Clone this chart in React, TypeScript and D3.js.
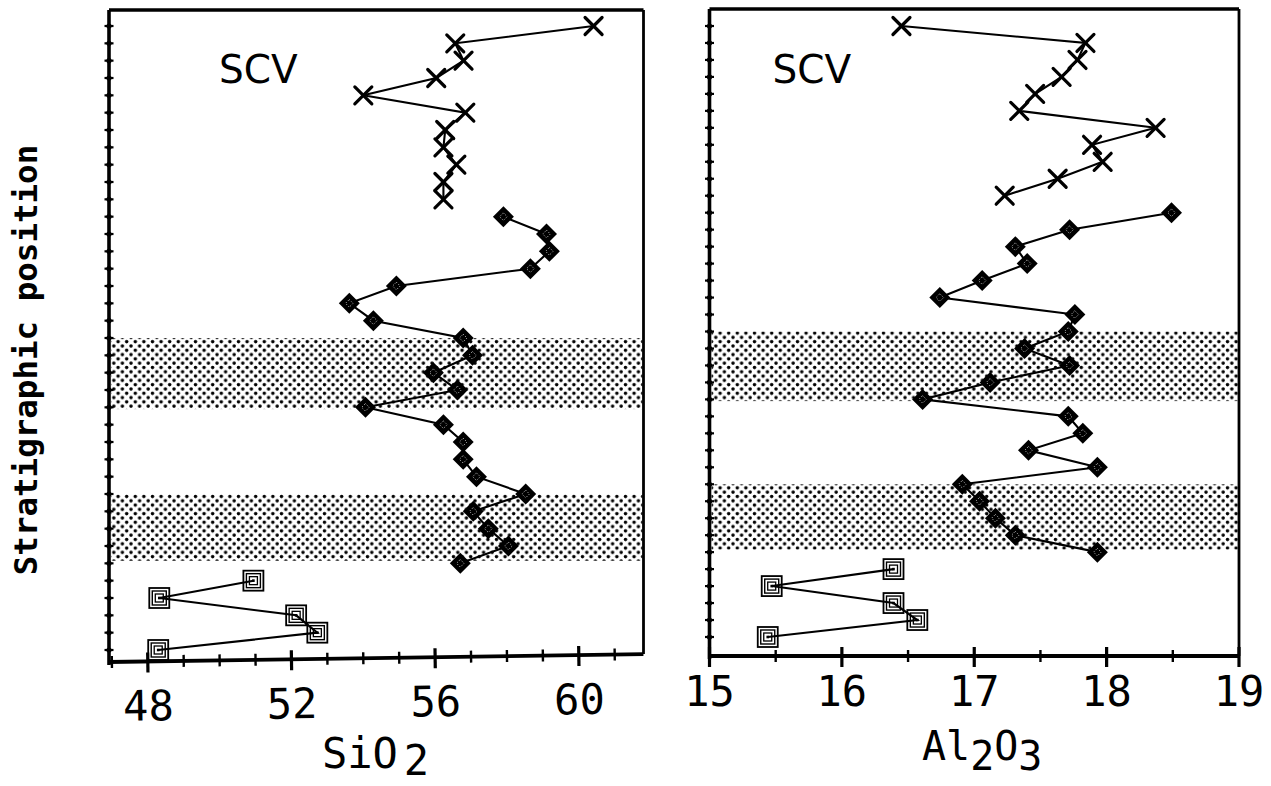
import React from "react";
import * as d3 from "d3";

// Stratigraphic positions (ordinal, bottom of section = 36)
const crossPos = [0, 1, 2, 3, 4, 5, 6, 7, 8, 9, 10];
const diamondPos = [11, 12, 13, 14, 15, 16, 17, 18, 19, 20, 21, 22, 23, 24, 25, 26, 27, 28, 29, 30, 31];
const squarePos = [32, 33, 34, 35, 36];

// SiO2 (wt%)
const sio2Cross = [60.41, 56.56, 56.79, 56.03, 54.0, 56.84, 56.28, 56.23, 56.59, 56.23, 56.23];
const sio2Diamond = [57.9, 59.1, 59.18, 58.65, 54.92, 53.61, 54.28, 56.78, 57.04, 55.95, 56.62, 54.06, 56.23, 56.78, 56.78, 57.15, 58.52, 57.06, 57.48, 58.04, 56.7];
const sio2Square = [50.94, 48.32, 52.13, 52.72, 48.29];

// Al2O3 (wt%)
const al2o3Cross = [16.45, 17.84, 17.78, 17.66, 17.46, 17.34, 18.37, 17.89, 17.97, 17.63, 17.23];
const al2o3Diamond = [18.49, 17.72, 17.31, 17.4, 17.06, 16.74, 17.76, 17.71, 17.38, 17.72, 17.12, 16.61, 17.71, 17.82, 17.41, 17.93, 16.91, 17.04, 17.16, 17.31, 17.93];
const al2o3Square = [16.39, 15.47, 16.39, 16.57, 15.44];

// Shaded intervals (in stratigraphic position units)
const bands = [
  [18.0, 22.1],
  [27.0, 30.85],
];

// Axis ticks
const sio2Major = [48, 52, 56, 60];
const sio2Minor = [47, 49, 50, 51, 53, 54, 55, 57, 58, 59, 61];
const al2o3Major = [15, 16, 17, 18, 19];
const al2o3Minor = [15.5, 16.5, 17.5, 18.5];
const positionTicks = d3.range(0, 37);

const MONO = "'DejaVu Sans Mono', 'Liberation Mono', monospace";
const SANS = "'DejaVu Sans', sans-serif";

type PanelProps = {
  id: string;
  x0: number;
  x1: number;
  yTop: number;
  yBottom: number;
  domain: [number, number];
  yRange: [number, number];
  major: number[];
  minor: number[];
  cross: number[];
  diamond: number[];
  square: number[];
  tilt: number;
  labelBaseline: number;
  title: React.ReactNode;
};

function Cross({ x, y }: { x: number; y: number }) {
  const s = 8.5;
  return (
    <g stroke="#000" strokeWidth={3.2} strokeLinecap="round">
      <line x1={x - s} y1={y - s} x2={x + s} y2={y + s} />
      <line x1={x - s} y1={y + s} x2={x + s} y2={y - s} />
    </g>
  );
}

function Diamond({ x, y }: { x: number; y: number }) {
  const s = 10.5;
  const i = 3.8;
  return (
    <g>
      <path d={`M${x},${y - s}L${x + s},${y}L${x},${y + s}L${x - s},${y}Z`} fill="#000" />
      <path
        d={`M${x},${y - i}L${x + i},${y}L${x},${y + i}L${x - i},${y}Z`}
        fill="none"
        stroke="#fff"
        strokeWidth={0.8}
        strokeDasharray="1 1.8"
      />
    </g>
  );
}

function Square({ x, y }: { x: number; y: number }) {
  return (
    <g fill="none" stroke="#000">
      <rect x={x - 10} y={y - 10} width={20} height={20} strokeWidth={1.8} />
      <rect x={x - 7} y={y - 7} width={14} height={14} strokeWidth={1.4} />
      <rect x={x - 4} y={y - 4} width={8} height={8} strokeWidth={1.3} />
      <rect x={x - 1.3} y={y - 1.3} width={2.6} height={2.6} fill="#000" strokeWidth={0} />
    </g>
  );
}

function Panel(p: PanelProps) {
  const x = d3.scaleLinear().domain(p.domain).range([p.x0, p.x1]);
  const y = d3.scaleLinear().domain([0, 36]).range(p.yRange);
  const line = d3
    .line<[number, number]>()
    .x((d) => x(d[0]))
    .y((d) => y(d[1]));
  const series = [
    { vals: p.cross, pos: crossPos, kind: "x" },
    { vals: p.diamond, pos: diamondPos, kind: "d" },
    { vals: p.square, pos: squarePos, kind: "s" },
  ];
  const rot = `rotate(${p.tilt}, ${p.x0}, ${p.yBottom})`;
  return (
    <g>
      {/* shaded bands */}
      {bands.map((b, i) => (
        <rect
          key={i}
          x={p.x0 + 2}
          y={y(b[0])}
          width={p.x1 - p.x0 - 3}
          height={y(b[1]) - y(b[0])}
          fill={`url(#dots-${p.id})`}
        />
      ))}
      {/* frame: top and right */}
      <line x1={p.x0} y1={p.yTop} x2={p.x1} y2={p.yTop} stroke="#000" strokeWidth={3.4} />
      <line x1={p.x1} y1={p.yTop} x2={p.x1} y2={p.yBottom + p.tilt * 9.3} stroke="#000" strokeWidth={2.8} />
      {/* left axis */}
      <line x1={p.x0} y1={p.yTop} x2={p.x0} y2={p.yBottom + 3} stroke="#000" strokeWidth={3.6} />
      {positionTicks.map((t) => (
        <g key={t}>
          <line x1={p.x0 - 4.5} x2={p.x0 + 4.5} y1={y(t)} y2={y(t)} stroke="#000" strokeWidth={2.2} />
          <circle cx={p.x0} cy={y(t)} r={2.6} fill="#000" />
        </g>
      ))}
      {/* bottom axis */}
      <g transform={rot}>
        <line x1={p.x0} y1={p.yBottom} x2={p.x1} y2={p.yBottom} stroke="#000" strokeWidth={3.8} />
        {p.major.map((t) => (
          <line key={t} x1={x(t)} x2={x(t)} y1={p.yBottom - 9} y2={p.yBottom + 11} stroke="#000" strokeWidth={3.2} />
        ))}
        {p.minor.map((t) => (
          <line key={t} x1={x(t)} x2={x(t)} y1={p.yBottom - 6} y2={p.yBottom + 6} stroke="#000" strokeWidth={2.4} />
        ))}
        {p.major.map((t) => (
          <text
            key={t}
            x={x(t)}
            y={p.labelBaseline}
            textAnchor="middle"
            fontFamily={MONO}
            fontSize={42}
            fill="#000"
          >
            {t}
          </text>
        ))}
      </g>
      {/* data */}
      {series.map((s, si) => {
        const pts: [number, number][] = s.vals.map((v, i) => [v, s.pos[i]]);
        return (
          <g key={si}>
            <path d={line(pts) ?? ""} fill="none" stroke="#000" strokeWidth={2.1} />
            {pts.map((d, i) =>
              s.kind === "x" ? (
                <Cross key={i} x={x(d[0])} y={y(d[1])} />
              ) : s.kind === "d" ? (
                <Diamond key={i} x={x(d[0])} y={y(d[1])} />
              ) : (
                <Square key={i} x={x(d[0])} y={y(d[1])} />
              )
            )}
          </g>
        );
      })}
      <text x={p.x0 + (p.id === "l" ? 110 : 63)} y={83} fontFamily={SANS} fontSize={39} fill="#000">
        SCV
      </text>
      {p.title}
    </g>
  );
}

export default function App() {
  return (
    <svg width={1271} height={786} style={{ position: "absolute", left: 0, top: 0, background: "#fff" }}>
      <defs>
        {["l", "r"].map((id) => (
          <pattern key={id} id={`dots-${id}`} width={8.6} height={8.6} patternUnits="userSpaceOnUse">
            <circle cx={2} cy={2} r={1.75} fill="#000" />
            <circle cx={6.3} cy={6.3} r={1.75} fill="#000" />
          </pattern>
        ))}
      </defs>
      <rect width={1271} height={786} fill="#fff" />
      <text
        transform="translate(37, 360) rotate(-90)"
        textAnchor="middle"
        fontFamily={MONO}
        fontWeight="bold"
        fontSize={32.5}
        fill="#000"
      >
        Stratigraphic position
      </text>
      <Panel
        id="l"
        x0={109}
        x1={643.5}
        yTop={10}
        yBottom={662}
        domain={[46.92, 61.8]}
        yRange={[26, 650]}
        major={sio2Major}
        minor={sio2Minor}
        cross={sio2Cross}
        diamond={sio2Diamond}
        square={sio2Square}
        tilt={-0.85}
        labelBaseline={721}
        title={
          <text x={322} y={768} fontFamily={MONO} fontSize={42} fill="#000">
            SiO
            <tspan dx={6} dy={7}>2</tspan>
          </text>
        }
      />
      <Panel
        id="r"
        x0={709.5}
        x1={1239}
        yTop={9}
        yBottom={656}
        domain={[15, 19]}
        yRange={[26, 637]}
        major={al2o3Major}
        minor={al2o3Minor}
        cross={al2o3Cross}
        diamond={al2o3Diamond}
        square={al2o3Square}
        tilt={0}
        labelBaseline={706}
        title={
          <text x={922} y={760} fontFamily={MONO} fontSize={40} fill="#000">
            Al
            <tspan dy={10}>2</tspan>
            <tspan dy={-10}>O</tspan>
            <tspan dy={10}>3</tspan>
          </text>
        }
      />
    </svg>
  );
}
